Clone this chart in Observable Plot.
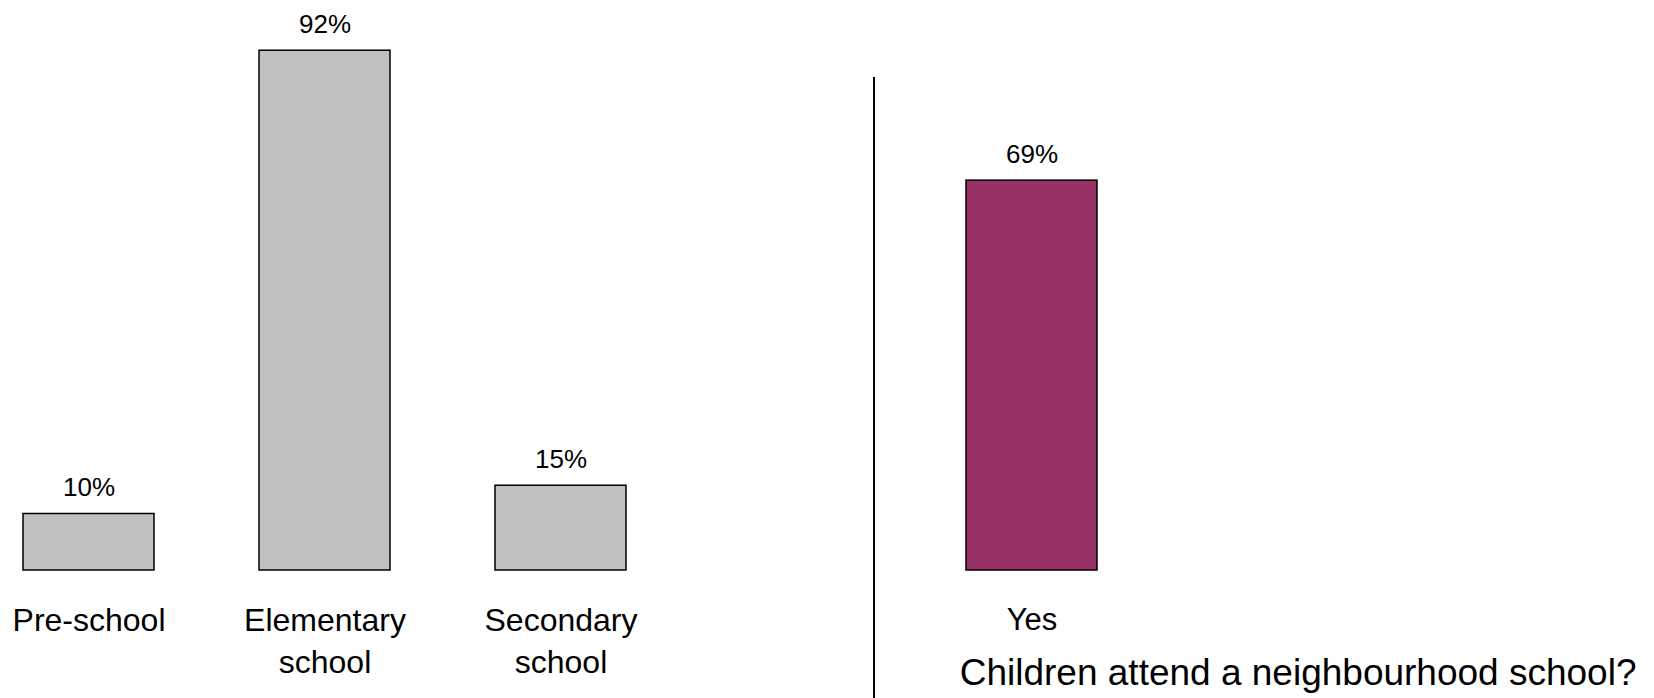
<!DOCTYPE html>
<html>
<head>
<meta charset="utf-8">
<script src="https://cdn.jsdelivr.net/npm/d3@7"></script>
<script src="https://cdn.jsdelivr.net/npm/@observablehq/plot@0.6"></script>
<style>
  html, body { margin: 0; padding: 0; background: #fff; }
  #wrap { position: relative; width: 1654px; height: 698px; display: flex; font-family: "Liberation Sans", Arial, sans-serif; }
  #divider { position: absolute; left: 873px; top: 77px; width: 2px; height: 621px; background: #000; }
  svg { display: block; }
</style>
</head>
<body>
<div id="wrap"><div id="left"></div><div id="right"></div><div id="divider"></div></div>
<script>
const levels = ["Pre-school", "Elementary\nschool", "Secondary\nschool"];
const levelValues = [10, 92, 15];
const neighbourhood = ["Yes"];
const neighbourhoodValues = [69];
const rightTitle = "Children attend a neighbourhood school?";

const leftData = levels.map((c, i) => ({cat: c, value: levelValues[i]}));
const rightData = neighbourhood.map((c, i) => ({cat: c, value: neighbourhoodValues[i]}));
const font = "Liberation Sans, Arial, sans-serif";

const left = Plot.plot({
  width: 873, height: 698,
  marginLeft: 22, marginRight: 247, marginTop: 5, marginBottom: 128,
  style: {fontFamily: font, background: "white"},
  x: {domain: levels, paddingInner: 0.446, paddingOuter: 0},
  y: {domain: [0, 100], axis: null},
  marks: [
    Plot.barY(leftData, {x: "cat", y: "value", fill: "#c0c0c0", stroke: "#000", strokeWidth: 1.5}),
    Plot.text(leftData, {x: "cat", y: "value", text: d => d.value + "%", dy: -18, lineAnchor: "bottom", fontSize: 26, fill: "#000"}),
    Plot.axisX({tickSize: 0, tickPadding: 31, fontSize: 32, lineHeight: 1.3, label: null, color: "#000"})
  ]
});

const right = Plot.plot({
  width: 781, height: 698,
  marginLeft: 0, marginRight: 0, marginTop: 5, marginBottom: 128,
  style: {fontFamily: font, background: "white"},
  x: {domain: neighbourhood, range: [93, 224], padding: 0},
  y: {domain: [0, 100], axis: null},
  marks: [
    Plot.barY(rightData, {x: "cat", y: "value", fill: "#993366", stroke: "#000", strokeWidth: 1.5}),
    Plot.text(rightData, {x: "cat", y: "value", text: d => d.value + "%", dy: -18, lineAnchor: "bottom", fontSize: 26, fill: "#000"}),
    Plot.axisX({tickSize: 0, tickPadding: 37, fontSize: 31, label: null, color: "#000"}),
    Plot.text([rightTitle], {frameAnchor: "bottom-right", textAnchor: "end", lineAnchor: "bottom", dx: -18, dy: 114, fontSize: 37, fill: "#000"})
  ]
});

document.getElementById("left").appendChild(left);
document.getElementById("right").appendChild(right);
</script>
</body>
</html>
